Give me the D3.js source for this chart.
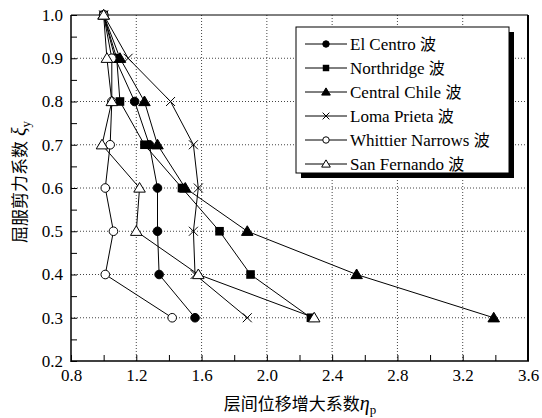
<!DOCTYPE html>
<html>
<head>
<meta charset="utf-8">
<script src="https://cdn.jsdelivr.net/npm/d3@7"></script>
<style>
body { margin: 0; background: #fff; }
</style>
</head>
<body>
<svg id="chart" width="542" height="418"></svg>
<script>
// yield shear coefficient levels (y) and drift amplification per record (x)
var yLevels = [1.0, 0.9, 0.8, 0.7, 0.6, 0.5, 0.4, 0.3];
var elCentro = [1.0, 1.07, 1.19, 1.28, 1.33, 1.33, 1.34, 1.56];
var northridge = [1.0, 1.08, 1.10, 1.25, 1.48, 1.71, 1.90, 2.27];
var centralChile = [1.0, 1.10, 1.25, 1.33, 1.50, 1.88, 2.55, 3.39];
var lomaPrieta = [1.0, 1.15, 1.41, 1.55, 1.58, 1.55, 1.56, 1.88];
var whittier = [1.0, 1.05, 1.05, 1.04, 1.01, 1.06, 1.01, 1.42];
var sanFernando = [1.0, 1.02, 1.05, 0.99, 1.22, 1.20, 1.58, 2.29];
var seriesNames = ["El Centro", "Northridge", "Central Chile", "Loma Prieta", "Whittier Narrows", "San Fernando"];
var seriesSymbols = ["circleF", "squareF", "triF", "cross", "circleO", "triO"];
var xTicks = [0.8, 1.2, 1.6, 2.0, 2.4, 2.8, 3.2, 3.6];
var yTicks = [0.2, 0.3, 0.4, 0.5, 0.6, 0.7, 0.8, 0.9, 1.0];

var allSeries = [elCentro, northridge, centralChile, lomaPrieta, whittier, sanFernando];

var serif = '"Liberation Serif", "Times New Roman", serif';
var cjk = '"Noto Sans CJK SC", sans-serif';
var svg = d3.select("#chart");
var pLeft = 71, pRight = 528, pTop = 15, pBottom = 361;

var x = d3.scaleLinear().domain([0.8, 3.6]).range([pLeft, pRight]);
var y = d3.scaleLinear().domain([0.2, 1.0]).range([pBottom, pTop]);

// dotted grid
svg.append("g").selectAll("line").data(xTicks.slice(1, -1)).enter().append("line")
   .attr("x1", function(d) { return x(d); }).attr("x2", function(d) { return x(d); })
   .attr("y1", pTop).attr("y2", pBottom)
   .attr("stroke", "#444").attr("stroke-width", 1).attr("stroke-dasharray", "1,2");
svg.append("g").selectAll("line").data(yTicks.slice(1, -1)).enter().append("line")
   .attr("y1", function(d) { return y(d); }).attr("y2", function(d) { return y(d); })
   .attr("x1", pLeft).attr("x2", pRight)
   .attr("stroke", "#444").attr("stroke-width", 1).attr("stroke-dasharray", "1,2");

// axes, ticks pointing inward
svg.append("g")
   .attr("transform", "translate(0," + pBottom + ")")
   .call(d3.axisBottom(x).tickValues(xTicks).tickSize(0).tickPadding(8).tickFormat(d3.format(".1f")))
   .call(function(g) { g.select(".domain").remove(); })
   .selectAll("text").attr("font-size", "17px").attr("font-family", serif).attr("fill", "#000");
svg.append("g")
   .attr("transform", "translate(0," + pBottom + ")")
   .call(d3.axisTop(x).tickValues(d3.range(0.8, 3.61, 0.2)).tickSize(6).tickFormat(""))
   .call(function(g) { g.select(".domain").remove(); g.selectAll("line").attr("stroke", "#000"); });

svg.append("g")
   .attr("transform", "translate(" + pLeft + ",0)")
   .call(d3.axisLeft(y).tickValues(yTicks).tickSize(0).tickPadding(8).tickFormat(d3.format(".1f")))
   .call(function(g) { g.select(".domain").remove(); })
   .selectAll("text").attr("font-size", "17px").attr("font-family", serif).attr("fill", "#000");
svg.append("g")
   .attr("transform", "translate(" + pLeft + ",0)")
   .call(d3.axisRight(y).tickValues(d3.range(0.2, 1.001, 0.05)).tickSize(6).tickFormat(""))
   .call(function(g) { g.select(".domain").remove(); g.selectAll("line").attr("stroke", "#000"); });

// frame
svg.append("line").attr("x1", pLeft).attr("x2", pRight).attr("y1", pTop).attr("y2", pTop)
   .attr("stroke", "#000").attr("stroke-width", 1);
svg.append("line").attr("x1", pRight).attr("x2", pRight).attr("y1", pTop).attr("y2", pBottom)
   .attr("stroke", "#000").attr("stroke-width", 2);
svg.append("line").attr("x1", pLeft).attr("x2", pLeft).attr("y1", pTop).attr("y2", pBottom + 1)
   .attr("stroke", "#000").attr("stroke-width", 1.5);
svg.append("line").attr("x1", pLeft).attr("x2", pRight + 1).attr("y1", pBottom).attr("y2", pBottom)
   .attr("stroke", "#000").attr("stroke-width", 1.5);

function drawMarker(g, type, cx, cy, s) {
    if (type == "circleF" || type == "circleO") {
        g.append("circle").attr("cx", cx).attr("cy", cy).attr("r", 4.3 * s)
         .attr("fill", type == "circleF" ? "#000" : "#fff").attr("stroke", "#000").attr("stroke-width", 1);
    } else if (type == "squareF") {
        g.append("rect").attr("x", cx - 4.3 * s).attr("y", cy - 4.3 * s)
         .attr("width", 8.6 * s).attr("height", 8.6 * s).attr("fill", "#000");
    } else if (type == "triF" || type == "triO") {
        var h = 5.5 * s;
        g.append("path")
         .attr("d", "M" + cx + "," + (cy - h) + "L" + (cx + h * 1.05) + "," + (cy + h * 0.75) + "L" + (cx - h * 1.05) + "," + (cy + h * 0.75) + "Z")
         .attr("fill", type == "triF" ? "#000" : "#fff").attr("stroke", "#000").attr("stroke-width", 1);
    } else if (type == "cross") {
        var c = 4.5 * s;
        g.append("path")
         .attr("d", "M" + (cx - c) + "," + (cy - c) + "L" + (cx + c) + "," + (cy + c) + "M" + (cx - c) + "," + (cy + c) + "L" + (cx + c) + "," + (cy - c))
         .attr("stroke", "#000").attr("stroke-width", 1).attr("fill", "none");
    }
}

var line = d3.line()
    .x(function(d) { return x(d[0]); })
    .y(function(d) { return y(d[1]); });

var plot = svg.append("g");
allSeries.forEach(function(vals, i) {
    var pts = vals.map(function(v, j) { return [v, yLevels[j]]; });
    plot.append("path").datum(pts).attr("d", line)
        .attr("fill", "none").attr("stroke", "#000").attr("stroke-width", 1);
});
allSeries.forEach(function(vals, i) {
    vals.forEach(function(v, j) {
        drawMarker(plot, seriesSymbols[i], x(v), y(yLevels[j]), 1);
    });
});

// legend
var lg = svg.append("g");
lg.append("rect").attr("x", 301).attr("y", 32).attr("width", 213).attr("height", 146).attr("fill", "#000");
lg.append("rect").attr("x", 296).attr("y", 27).attr("width", 213).attr("height", 146)
  .attr("fill", "#fff").attr("stroke", "#000").attr("stroke-width", 1);
seriesNames.forEach(function(name, i) {
    var ly = 44 + i * 24;
    lg.append("line").attr("x1", 305).attr("x2", 347).attr("y1", ly).attr("y2", ly)
      .attr("stroke", "#000").attr("stroke-width", 1);
    drawMarker(lg, seriesSymbols[i], 326, ly, 0.75);
    var t = lg.append("text").attr("x", 350).attr("y", ly + 5.5).attr("font-size", "17px");
    t.append("tspan").attr("font-family", serif).text(name + " ");
    t.append("tspan").attr("font-family", cjk).attr("font-size", "16px").text("波");
});

// axis titles
var xt = svg.append("text")
   .attr("x", 300).attr("y", 410)
   .attr("text-anchor", "middle")
   .attr("font-size", "17px");
xt.append("tspan").attr("font-family", cjk).text("层间位移增大系数");
xt.append("tspan").attr("font-family", serif).attr("font-style", "italic").attr("font-size", "20px").text("η");
xt.append("tspan").attr("font-family", serif).attr("font-size", "13px").attr("dy", 4).text("p");

var yt = svg.append("text")
   .attr("transform", "translate(26,182) rotate(-90)")
   .attr("text-anchor", "middle")
   .attr("font-size", "17px");
yt.append("tspan").attr("font-family", cjk).text("屈服剪力系数");
yt.append("tspan").attr("font-family", serif).attr("font-style", "italic").attr("font-size", "20px").text(" ξ");
yt.append("tspan").attr("font-family", serif).attr("font-size", "13px").attr("dy", 4).text("y");
</script>
</body>
</html>
